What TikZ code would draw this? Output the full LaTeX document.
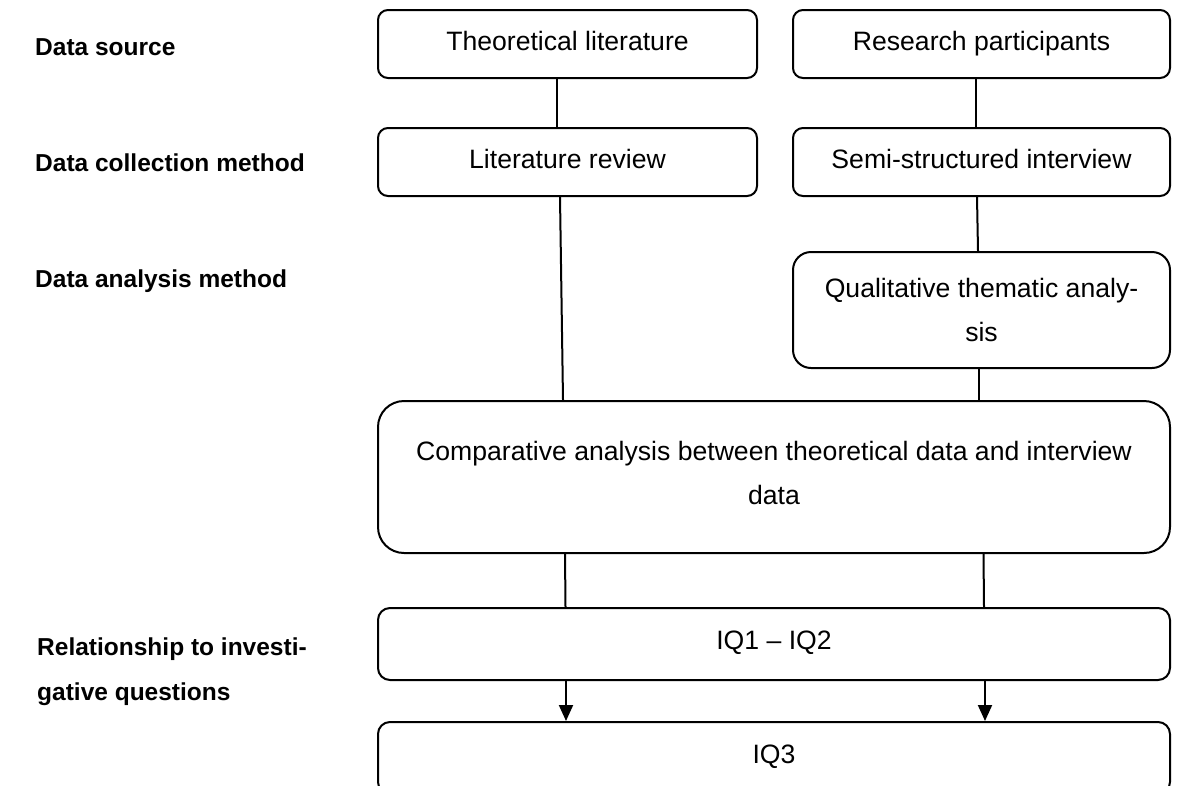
\documentclass[tikz,border=0pt]{standalone}
\usepackage{fontspec}
\setmainfont{Liberation Sans}
\usetikzlibrary{arrows.meta}
\begin{document}
\begin{tikzpicture}[x=1pt,y=-1pt,
  box/.style={draw, line width=2pt, rounded corners=10pt, inner sep=0pt, align=center,
    font=\fontsize{26.6}{44}\selectfont},
  onebox/.style={box, text height=19pt, text depth=5.5pt},
  lbl/.style={anchor=west, inner sep=0pt, align=left, font=\fontsize{24.5}{45}\selectfont\bfseries},
  conn/.style={line width=2pt},
  arr/.style={line width=2pt, -{Triangle[length=16pt,width=14pt]}}]
\clip (0,0) rectangle (1177,785);
\fill[white] (0,0) rectangle (1177,785);
% left labels
\node[lbl] (l1) at (35,47) {Data source};
\node[lbl] (l2) at (35,163) {Data collection method};
\node[lbl] (l3) at (35,281) {Data analysis method};
\node[lbl] (l4) at (37,672) {Relationship to investi-\\gative questions};
% boxes
\node[onebox, minimum width=379pt, minimum height=68pt] (t1) at (567.5,44) {Theoretical literature};
\node[onebox, minimum width=377pt, minimum height=68pt] (t2) at (981.5,44) {Research participants};
\node[onebox, minimum width=379pt, minimum height=68pt] (c1) at (567.5,162) {Literature review};
\node[onebox, minimum width=377pt, minimum height=68pt] (c2) at (981.5,162) {Semi-structured interview};
\node[box, rounded corners=18pt, minimum width=377pt, minimum height=116pt] (a2) at (981.5,310) {Qualitative thematic analy-\\sis};
\node[box, rounded corners=26pt, minimum width=792pt, minimum height=152pt] (cmp) at (774,477) {Comparative analysis between theoretical data and interview\\data\rule[-8pt]{0pt}{8pt}};
\node[onebox, rounded corners=12pt, minimum width=792pt, minimum height=72pt] (iq12) at (774,644) {\raisebox{1pt}{IQ1 – IQ2}};
\node[onebox, rounded corners=12pt, minimum width=792pt, minimum height=72pt] (iq3) at (774,758) {\raisebox{1pt}{IQ3}};
% connectors
\draw[conn] ([xshift=-10.5pt]t1.south) -- ([xshift=-10.5pt]c1.north);
\draw[conn] ([xshift=-6pt]t2.south) -- ([xshift=-6pt]c2.north);
\draw[conn] ([xshift=-7.5pt]c1.south) -- (cmp.north -| 563,0);
\draw[conn] ([xshift=-4.5pt]c2.south) -- ([xshift=-3.5pt]a2.north);
\draw[conn] ([xshift=-2.5pt]a2.south) -- (cmp.north -| 979,0);
\draw[conn] (cmp.south -| 565,0) -- (iq12.north -| 565.5,0);
\draw[conn] (cmp.south -| 983.5,0) -- (iq12.north -| 984,0);
\draw[arr] (iq12.south -| 566,0) -- (iq3.north -| 566,0);
\draw[arr] (iq12.south -| 985,0) -- (iq3.north -| 985,0);
\end{tikzpicture}
\end{document}
